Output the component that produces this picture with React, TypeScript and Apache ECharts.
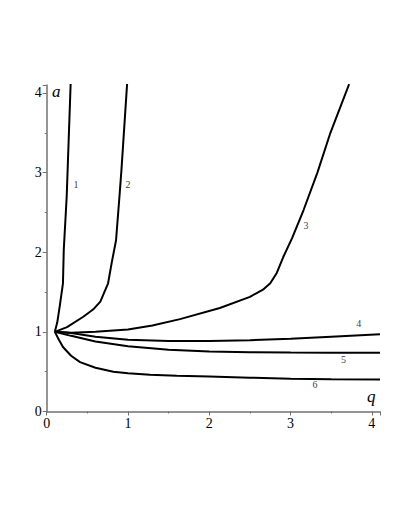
import React, { useEffect, useRef } from "react";
import * as echarts from "echarts";

// Curve data (q, a)
const curve1Q = [0.1, 0.13, 0.16, 0.2, 0.21, 0.246, 0.295];
const curve1A = [1.0, 1.12, 1.32, 1.61, 2.03, 2.7, 4.13];

const curve2Q = [0.1, 0.25, 0.45, 0.57, 0.66, 0.755, 0.8, 0.853, 0.895, 0.92, 0.99];
const curve2A = [1.0, 1.06, 1.19, 1.28, 1.38, 1.61, 1.87, 2.15, 2.7, 3.04, 4.13];

const curve3Q = [0.1, 0.3, 0.6, 1.0, 1.3, 1.64, 2.13, 2.5, 2.66, 2.75, 2.83, 2.91, 3.02, 3.16, 3.33, 3.49, 3.72];
const curve3A = [1.0, 0.99, 1.0, 1.03, 1.08, 1.16, 1.3, 1.44, 1.53, 1.61, 1.74, 1.94, 2.18, 2.53, 3.0, 3.5, 4.11];

const curve4Q = [0.1, 0.3, 0.6, 1.0, 1.5, 2.0, 2.5, 3.0, 3.5, 4.1];
const curve4A = [1.0, 0.985, 0.94, 0.9, 0.885, 0.886, 0.895, 0.915, 0.94, 0.97];

const curve5Q = [0.1, 0.3, 0.6, 1.0, 1.5, 2.0, 2.5, 3.0, 3.5, 4.1];
const curve5A = [1.0, 0.95, 0.88, 0.82, 0.775, 0.755, 0.745, 0.74, 0.738, 0.737];

const curve6Q = [0.1, 0.15, 0.2, 0.3, 0.41, 0.6, 0.82, 1.0, 1.27, 1.6, 2.0, 2.5, 3.0, 3.5, 4.1];
const curve6A = [1.0, 0.9, 0.81, 0.7, 0.62, 0.55, 0.5, 0.48, 0.46, 0.45, 0.44, 0.425, 0.41, 0.405, 0.402];

const labelText = ["1", "2", "3", "4", "5", "6"];
const labelQ = [0.36, 1.0, 3.19, 3.84, 3.65, 3.3];
const labelA = [2.85, 2.85, 2.33, 1.11, 0.65, 0.345];

const curves = [
  [curve1Q, curve1A],
  [curve2Q, curve2A],
  [curve3Q, curve3A],
  [curve4Q, curve4A],
  [curve5Q, curve5A],
  [curve6Q, curve6A],
];

export default function App() {
  const ref = useRef<HTMLDivElement>(null);
  useEffect(() => {
    if (!ref.current) return;
    const chart = echarts.init(ref.current, null, { renderer: "svg" });
    const axisColor = "#707070";
    const serif = "'Liberation Serif', 'DejaVu Serif', serif";
    chart.setOption({
      animation: false,
      backgroundColor: "#ffffff",
      grid: { left: 38.7, right: 22, top: 77, bottom: 110.5, containLabel: false },
      xAxis: {
        type: "value",
        min: 0,
        max: 4.1,
        interval: 1,
        splitLine: { show: false },
        axisLine: { onZero: false, lineStyle: { color: axisColor, width: 1.5 } },
        axisTick: { show: true, length: 4, lineStyle: { color: axisColor } },
        minorTick: { show: true, splitNumber: 2, length: 2, lineStyle: { color: axisColor } },
        axisLabel: {
          color: "#000",
          fontFamily: serif,
          fontSize: 14,
          margin: 5,
          formatter: (v: number) => (Number.isInteger(v) ? String(v) : ""),
        },
      },
      yAxis: {
        type: "value",
        min: 0,
        max: 4.1,
        interval: 1,
        splitLine: { show: false },
        axisLine: { onZero: false, lineStyle: { color: axisColor, width: 1.5 } },
        axisTick: { show: true, length: 4, lineStyle: { color: axisColor } },
        minorTick: { show: true, splitNumber: 2, length: 2, lineStyle: { color: axisColor } },
        axisLabel: {
          color: "#000",
          fontFamily: serif,
          fontSize: 14,
          margin: 5,
          formatter: (v: number) => (Number.isInteger(v) ? String(v) : ""),
        },
      },
      graphic: [
        {
          type: "text",
          left: 44,
          top: 75,
          style: { text: "a", fontFamily: serif, fontStyle: "italic", fontSize: 17, fill: "#000" },
        },
        {
          type: "text",
          left: 359,
          top: 380,
          style: { text: "q", fontFamily: serif, fontStyle: "italic", fontSize: 17, fill: "#000" },
        },
      ],
      series: [
        ...curves.map(([qs, as]) => ({
          type: "line",
          data: qs.map((q, i) => [q, as[i]]),
          showSymbol: false,
          smooth: false,
          clip: true,
          lineStyle: { color: "#000", width: 2 },
          itemStyle: { color: "#000" },
          silent: true,
        })),
        {
          type: "scatter",
          symbolSize: 0,
          itemStyle: { color: "#000" },
          data: labelQ.map((q, i) => ({ value: [q, labelA[i]], name: labelText[i] })),
          label: {
            show: true,
            position: "inside",
            formatter: (p: any) => p.name,
            fontFamily: serif,
            fontSize: 10,
            color: "#000",
            textBorderWidth: 0,
          },
          silent: true,
        },
      ],
    });
    return () => chart.dispose();
  }, []);
  return <div ref={ref} style={{ width: 394, height: 514 }} />;
}
